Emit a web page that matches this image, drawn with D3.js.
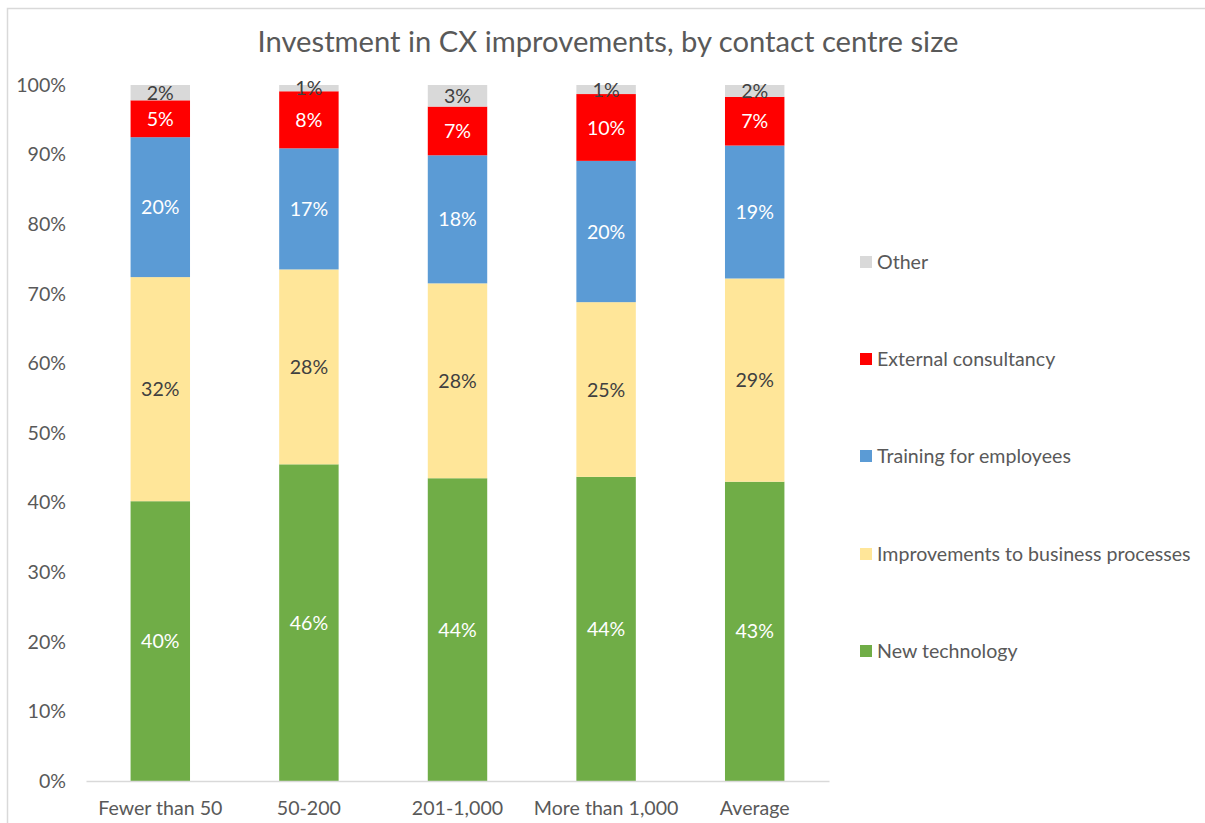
<!DOCTYPE html>
<html><head><meta charset="utf-8">
<script src="https://cdn.jsdelivr.net/npm/d3@7"></script>
<style>body{margin:0;background:#fff;} text{font-family:Lato,"Open Sans",sans-serif;}</style>
</head><body>
<svg id="c" width="1205" height="823"></svg>
<script>
const categories = ["Fewer than 50","50-200","201-1,000","More than 1,000","Average"];
const seriesNames = ["New technology","Improvements to business processes","Training for employees","External consultancy","Other"];
const newTechnology = [40.2, 45.5, 43.5, 43.7, 43.0];
const improvements = [32.2, 28.0, 28.0, 25.1, 29.2];
const training = [20.1, 17.4, 18.4, 20.3, 19.1];
const externalConsultancy = [5.3, 8.2, 7.0, 9.6, 7.0];
const other = [2.2, 0.9, 3.1, 1.3, 1.7];
const colors = ["#70AD47","#FFE699","#5B9BD5","#FF0000","#D9D9D9"];
const labelColors = ["#ffffff","#404040","#ffffff","#ffffff","#404040"];
const yTicks = [0,10,20,30,40,50,60,70,80,90,100];

const FS = 19.6;
const seriesVals = [newTechnology, improvements, training, externalConsultancy, other];
const rows = categories.map((c,i)=>{const r={cat:c}; seriesNames.forEach((s,j)=>r[s]=seriesVals[j][i]); return r;});
const stack = d3.stack().keys(seriesNames)(rows);

const svg = d3.select("#c");
svg.append("rect").attr("x",7.5).attr("y",8.5).attr("width",1210).attr("height",830)
  .attr("fill","none").attr("stroke","#D9D9D9").attr("stroke-width",1.5);

svg.append("text").attr("x",608).attr("y",52).attr("text-anchor","middle")
  .attr("font-size",29.2).attr("fill","#595959").text("Investment in CX improvements, by contact centre size");

const x = d3.scaleBand().domain(categories).range([86,829]).paddingInner(0.6).paddingOuter(0.3);
const y = d3.scaleLinear().domain([0,100]).range([781,85]);

// y axis labels
const ya = svg.append("g").attr("transform","translate(66,0)")
  .call(d3.axisLeft(y).tickValues(yTicks).tickFormat(d=>d+"%").tickSize(0).tickPadding(0));
ya.select(".domain").remove();
ya.selectAll("text").attr("font-size",FS).attr("fill","#595959").style("font-family","Lato,'Open Sans',sans-serif");

// bars
stack.forEach((s,j)=>{
  svg.append("g").selectAll("rect").data(s).enter().append("rect")
    .attr("x",d=>x(d.data.cat)).attr("width",x.bandwidth())
    .attr("y",d=>y(d[1])).attr("height",d=>y(d[0])-y(d[1]))
    .attr("fill",colors[j]);
});
// x axis
const xa = svg.append("g").attr("transform","translate(0,781)")
  .call(d3.axisBottom(x).tickSize(0).tickPadding(20));
xa.select(".domain").attr("stroke","#D9D9D9").attr("stroke-width",1.5);
xa.selectAll("text").attr("font-size",FS).attr("fill","#595959").style("font-family","Lato,'Open Sans',sans-serif");

// labels
stack.forEach((s,j)=>{
  svg.append("g").selectAll("text").data(s).enter().append("text")
    .attr("x",d=>x(d.data.cat)+x.bandwidth()/2)
    .attr("y",d=>(y(d[0])+y(d[1]))/2)
    .attr("dy","0.36em").attr("text-anchor","middle").attr("font-size",FS)
    .attr("fill",labelColors[j])
    .text(d=>Math.round(d[1]-d[0])+"%");
});

// legend
const legendY = [651, 554, 456, 359, 262];
seriesNames.forEach((s,j)=>{
  const g = svg.append("g").attr("transform",`translate(860,${legendY[j]})`);
  g.append("rect").attr("x",0).attr("y",-6).attr("width",12).attr("height",12).attr("fill",colors[j]);
  g.append("text").attr("x",17).attr("y",0).attr("dy","0.36em").attr("font-size",FS).attr("fill","#595959").text(s);
});
</script>
</body></html>
